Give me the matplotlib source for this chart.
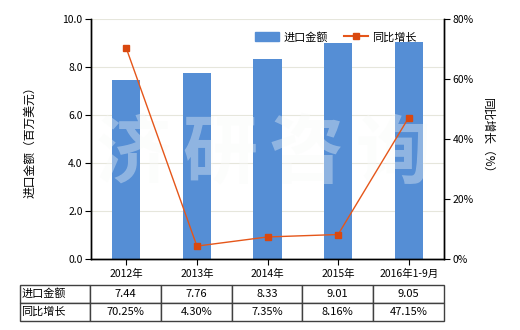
import matplotlib
matplotlib.use('Agg')
import matplotlib.pyplot as plt
from matplotlib.ticker import FuncFormatter
from matplotlib.patches import Patch
from matplotlib.lines import Line2D

plt.rcParams['font.family'] = ['Noto Sans CJK SC', 'DejaVu Sans']
plt.rcParams['font.size'] = 7.5

# 数据
years = ['2012年', '2013年', '2014年', '2015年', '2016年1-9月']
import_value = [7.44, 7.76, 8.33, 9.01, 9.05]
growth_pct = [70.25, 4.30, 7.35, 8.16, 47.15]
row_labels = ['进口金额', '同比增长']
watermark_chars = ['济', '研', '咨', '询']

bar_color = '#558ED5'
line_color = '#E5561A'
edge_color = '#404040'

fig = plt.figure(figsize=(5.2, 3.3), dpi=100)
ax = fig.add_axes([91 / 520, 71 / 330, 353 / 520, 240 / 330])
ax2 = ax.twinx()

x = list(range(len(years)))
ax.bar(x, import_value, width=0.4, color=bar_color, zorder=2)
ax.set_xlim(-0.5, len(years) - 0.5)
ax.set_ylim(0, 10)
ax.set_yticks([0, 2, 4, 6, 8, 10])
ax.yaxis.set_major_formatter(FuncFormatter(lambda v, p: f'{v:.1f}'))
ax.grid(axis='y', color='#e6e6dc', linewidth=0.8, zorder=0)
ax.set_axisbelow(True)
ax.set_xticks(x)
ax.set_xticklabels(years)
ax.tick_params(axis='x', length=4, pad=3)
ax.tick_params(axis='y', length=4, pad=2)
ax.set_ylabel('进口金额（百万美元）', labelpad=19, fontsize=8.5)

# 水印
for i, ch in enumerate(watermark_chars):
    ax.text(0.12 + i * 0.245, 0.435, ch, transform=ax.transAxes, fontsize=54,
            fontweight='bold', color='#f8faf8', alpha=0.36, ha='center',
            va='center', zorder=3)

ax2.plot(x, growth_pct, color=line_color, linewidth=1, marker='s', markersize=5,
         markerfacecolor='#D9480F', markeredgecolor='#D9480F', zorder=5)
ax2.set_ylim(0, 80)
ax2.set_yticks([0, 20, 40, 60, 80])
ax2.yaxis.set_major_formatter(FuncFormatter(lambda v, p: f'{v:.0f}%'))
ax2.tick_params(axis='y', length=4, pad=2)
ax2.set_ylabel('同比增长（%）', rotation=-90, labelpad=15, fontsize=8.5)
ax.set_zorder(ax2.get_zorder() - 1)
ax.patch.set_visible(False)

for a in (ax, ax2):
    a.spines['top'].set_visible(False)
    for s in ('left', 'right', 'bottom'):
        a.spines[s].set_linewidth(1)

# 图例
handles = [Patch(color=bar_color),
           Line2D([], [], color=line_color, marker='s', markersize=4,
                  markerfacecolor='#D9480F', markeredgecolor='#D9480F')]
ax2.legend(handles, row_labels, ncol=2, frameon=False, loc='center right',
           bbox_to_anchor=(0.935, 0.925), handlelength=2.1, handleheight=0.9,
           handletextpad=0.4, columnspacing=1.5, fontsize=8,
           borderaxespad=0)

# 数据表
cells = [[f'{v:.2f}' for v in import_value], [f'{v:.2f}%' for v in growth_pct]]
table_rows = [[row_labels[0]] + cells[0], [row_labels[1]] + cells[1]]
col_w = [70 / 424] + [70.8 / 424] * len(years)
tbl = ax.table(cellText=table_rows, colWidths=col_w, cellLoc='center',
               bbox=[-71 / 353, -62 / 240, 424 / 353, 36 / 240])
tbl.auto_set_font_size(False)
tbl.set_fontsize(8)
for (r, c), cell in tbl.get_celld().items():
    cell.set_edgecolor(edge_color)
    cell.set_linewidth(1)
    if c == 0:
        cell._loc = 'left'
        cell.PAD = 0.02
        cell.get_text().set_ha('left')

fig.savefig('out.png', dpi=100)
